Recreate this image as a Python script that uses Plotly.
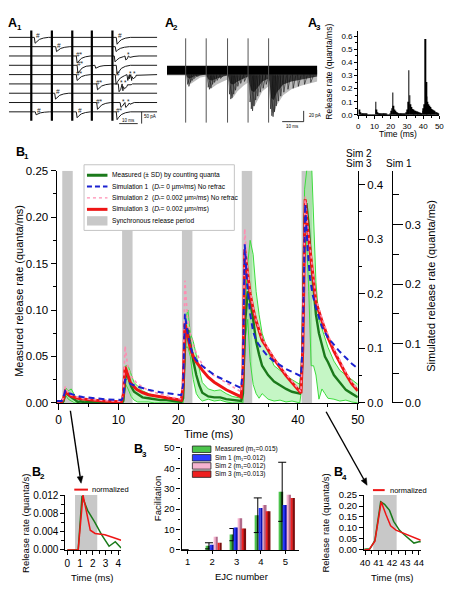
import plotly.graph_objects as go

FONT = "Liberation Sans, Arial, sans-serif"
W, H = 460, 600


def fx(p):
    return p / W


def fy(p):
    return 1 - p / H


# ---------------- A1: example EJC traces ----------------
a1_stim_ms = [11.1, 21.3, 31.4, 41.1, 51.3]
a1_trace_base = [32, 41.5, 51, 60.5, 70, 79.5, 89, 98.5, 108]
a1_ev_trace = [0, 0, 1, 1, 2, 2, 2, 3, 3, 3, 4, 4, 4, 4, 5, 5, 5, 6, 7, 7, 7, 8, 8, 8]
a1_ev_time = [12.6, 53.2, 23.2, 52.7, 33.4, 52.2, 57.5, 33.8, 42.6, 53.2, 33.4, 52.7,
              58.5, 60.4, 43.5, 54.2, 56.1, 22.7, 43.5, 55.1, 57.5, 13.1, 33.4, 53.2]
a1_ev_amp = [6, 7, 5, 5, 7, 6, 4, 8, 3, 9, 6, 10, 6, 6, 6, 8, 7, 6, 7, 5, 5, 3, 6, 8]
a1_ev_label = ['#', '#', '#', '', '#*', '', '*', '#*', '', '', '#*', '#', '*', '*',
               '#*', '*', '*', '#', '#*', '*', '*', '#', '#', '#*']
a1_tpl_dt = [0, 0.4, 1.2, 2.5, 4.5, 7.0]
a1_tpl_f = [0, 1.0, 0.7, 0.35, 0.12, 0]
a1_t_end = 73.5

# ---------------- A2: superimposed traces ----------------
a2_stim_ms = [9.0, 18.9, 29.2, 39.1, 49.0]
a2_env_t = [0, 9.2, 9.8, 11, 13, 16, 18.8, 19.2, 20, 21.5, 24, 27, 29.2, 29.6, 30.5, 32, 34,
            37, 39.1, 39.5, 40.5, 42, 44, 46, 49, 49.4, 50.3, 51.5, 53, 56, 60, 65, 72.5]
a2_dense_y = [70, 70, 73, 74, 72, 71, 70, 71, 75, 76, 74, 72, 71, 72, 79, 80, 77,
              74, 72, 74, 86, 88, 82, 77, 74, 77, 94, 96, 88, 80, 77, 75, 72]
a2_sparse_y = [71, 71, 78, 80, 77, 73, 72, 73, 82, 84, 80, 77, 75, 77, 91, 93, 87,
               81, 78, 82, 100, 103, 95, 87, 82, 88, 108, 110, 101, 91, 85, 81, 77]
a2_spike_t = [9.6, 10.2, 10.9, 11.8, 12.8, 14.0,
              19.5, 20.1, 20.8, 21.6, 22.6, 23.8, 25.5,
              29.8, 30.4, 31.0, 31.8, 32.7, 33.8, 35.2, 37.0,
              39.7, 40.3, 40.9, 41.6, 42.4, 43.4, 44.6, 46.0, 47.5,
              49.6, 50.2, 50.8, 51.5, 52.3, 53.3, 54.5, 56.0, 58.0, 60.5, 63.0, 66.0, 69.0]
a2_spike_y = [80, 82, 78, 76, 74, 72,
              83, 85, 84, 80, 78, 76, 74,
              90, 95, 94, 90, 86, 82, 79, 77,
              98, 105, 107, 102, 96, 92, 88, 84, 80,
              105, 112, 113, 108, 102, 97, 92, 88, 85, 84, 82, 80, 78]

# ---------------- A3: release-rate histogram (0.5 ms bins) ----------------
a3_bin_ms = 0.5
a3_rate = [0, 0.04, 0.02, 0.01, 0.008, 0.006, 0.005, 0.004, 0.004, 0.003,
           0.003, 0.002, 0.002, 0.002, 0.002, 0.001, 0.001, 0.001, 0.001, 0.001,
           0.002, 0.1, 0.04, 0.02, 0.012, 0.01, 0.008, 0.006, 0.005, 0.005,
           0.004, 0.004, 0.003, 0.003, 0.003, 0.002, 0.002, 0.002, 0.002, 0.01,
           0.03, 0.05, 0.17, 0.07, 0.04, 0.03, 0.02, 0.02, 0.015, 0.012,
           0.01, 0.01, 0.008, 0.008, 0.007, 0.006, 0.006, 0.005, 0.005, 0.02,
           0.04, 0.1, 0.34, 0.15, 0.08, 0.06, 0.045, 0.04, 0.035, 0.03,
           0.03, 0.025, 0.025, 0.02, 0.02, 0.018, 0.015, 0.012, 0.012, 0.03,
           0.05, 0.08, 0.58, 0.25, 0.14, 0.1, 0.08, 0.07, 0.06, 0.05,
           0.045, 0.04, 0.035, 0.03, 0.025, 0.02, 0.02, 0.015, 0.01, 0.01]

# ---------------- B1: measured vs simulated release rate ----------------
b1_stim_ms = [0, 10, 20, 30, 40]
sync_on, sync_off = 0.6, 2.35
b1_t_meas = [-0.3, 0.5, 0.8, 1.2, 1.6, 2.1, 2.7, 3.2, 3.7, 4.2, 5, 6, 8, 10.5,
             10.8, 11.2, 11.6, 12.1, 12.6, 13.2, 14, 15, 16, 17, 18, 19, 20.5,
             20.8, 21.2, 21.6, 22.0, 22.5, 23.0, 23.5, 24, 25, 26, 27, 28, 29, 30.5,
             30.8, 31.2, 31.6, 32.0, 32.5, 33.0, 33.5, 34, 35, 36, 37, 38, 39, 40.3,
             40.7, 41.1, 41.4, 41.8, 42.2, 42.6, 43.0, 43.5, 44, 44.5, 45, 46, 47, 48, 49, 50]
b1_meas = [0, 0, 0.002, 0.012, 0.0086, 0.0062, 0.0033, 0.001, 0.0018, 0.0005, 0.001, 0.0005, 0.0003, 0.0002,
           0.002, 0.03, 0.028, 0.018, 0.012, 0.009, 0.006, 0.005, 0.004, 0.003, 0.003, 0.002, 0.001,
           0.005, 0.075, 0.08, 0.063, 0.045, 0.03, 0.019, 0.011, 0.007, 0.006, 0.006, 0.004, 0.003, 0.002,
           0.01, 0.09, 0.12, 0.11, 0.09, 0.066, 0.052, 0.04, 0.03, 0.023, 0.019, 0.015, 0.012, 0.01,
           0.04, 0.2, 0.215, 0.19, 0.15, 0.12, 0.095, 0.075, 0.062, 0.05, 0.044, 0.03, 0.022, 0.014, 0.01, 0.006]
b1_meas_hi = [0, 0, 0.004, 0.016, 0.013, 0.015, 0.008, 0.004, 0.005, 0.002, 0.003, 0.002, 0.001, 0.001,
              0.004, 0.04, 0.04, 0.03, 0.022, 0.018, 0.013, 0.01, 0.008, 0.006, 0.005, 0.004, 0.003,
              0.01, 0.09, 0.1, 0.075, 0.066, 0.05, 0.035, 0.022, 0.015, 0.013, 0.014, 0.01, 0.007, 0.005,
              0.02, 0.11, 0.15, 0.175, 0.16, 0.12, 0.095, 0.075, 0.055, 0.04, 0.035, 0.03, 0.025, 0.02,
              0.06, 0.23, 0.25, 0.27, 0.27, 0.2, 0.13, 0.09, 0.08, 0.07, 0.06, 0.045, 0.035, 0.03, 0.025, 0.02]
b1_meas_lo = [0, 0, 0, 0.008, 0.004, 0.002, 0, 0, 0, 0, 0, 0, 0, 0,
              0, 0.02, 0.015, 0.007, 0.003, 0.001, 0.001, 0.001, 0, 0, 0, 0, 0,
              0, 0.06, 0.06, 0.05, 0.025, 0.01, 0.005, 0.002, 0.004, 0.002, 0.003, 0.001, 0, 0,
              0, 0.07, 0.09, 0.045, 0.02, 0.01, 0.005, 0.01, 0.004, 0.002, 0.003, 0.001, 0.002, 0,
              0.02, 0.17, 0.18, 0.12, 0.04, 0.04, 0.03, 0.004, 0.015, 0.01, 0.005, 0.004, 0.002, 0.003, 0.001, 0]
b1_t_sim = [-0.3, 0.5, 0.8, 1.1, 1.5, 2, 3, 4, 6, 8, 10.5,
            10.8, 11.1, 11.5, 12, 13, 14, 15, 17, 19, 20.5,
            20.8, 21.1, 21.5, 22, 22.5, 23, 24, 25, 26, 28, 30.5,
            30.8, 31.1, 31.5, 32, 32.5, 33, 34, 35, 36, 38, 40.5,
            40.8, 41.2, 41.6, 42, 42.5, 43, 44, 45, 46, 47, 48, 49, 50]
b1_sim1 = [0.003, 0.003, 0.01, 0.02, 0.017, 0.015, 0.012, 0.01, 0.008, 0.006, 0.005,
           0.01, 0.04, 0.036, 0.032, 0.028, 0.025, 0.022, 0.018, 0.015, 0.013,
           0.03, 0.15, 0.12, 0.095, 0.08, 0.072, 0.062, 0.054, 0.047, 0.037, 0.025,
           0.06, 0.267, 0.2, 0.15, 0.12, 0.105, 0.09, 0.078, 0.07, 0.057, 0.045,
           0.1, 0.335, 0.26, 0.21, 0.18, 0.16, 0.128, 0.11, 0.098, 0.086, 0.076, 0.066, 0.058]
b1_sim2 = [0.002, 0.002, 0.01, 0.03, 0.02, 0.015, 0.011, 0.008, 0.006, 0.004, 0.003,
           0.02, 0.104, 0.07, 0.05, 0.037, 0.029, 0.023, 0.016, 0.01, 0.007,
           0.04, 0.224, 0.16, 0.125, 0.105, 0.092, 0.07, 0.058, 0.05, 0.037, 0.02,
           0.06, 0.319, 0.25, 0.205, 0.175, 0.152, 0.118, 0.1, 0.082, 0.053, 0.02,
           0.12, 0.378, 0.325, 0.283, 0.24, 0.19, 0.155, 0.125, 0.1, 0.077, 0.056, 0.038, 0.024]
b1_sim3 = [0.002, 0.002, 0.008, 0.021, 0.017, 0.013, 0.009, 0.007, 0.005, 0.003, 0.002,
           0.015, 0.066, 0.052, 0.037, 0.025, 0.019, 0.015, 0.011, 0.007, 0.005,
           0.03, 0.147, 0.125, 0.1, 0.085, 0.075, 0.06, 0.047, 0.038, 0.024, 0.011,
           0.05, 0.281, 0.24, 0.2, 0.172, 0.15, 0.115, 0.097, 0.08, 0.05, 0.018,
           0.1, 0.373, 0.32, 0.28, 0.235, 0.185, 0.15, 0.12, 0.095, 0.073, 0.053, 0.035, 0.022]

# ---------------- B2 / B4: first and fifth response, normalized ----------------
b2_t_meas = [0, 0.55, 0.85, 1.15, 1.6, 2.13, 2.7, 3.28, 3.77, 4.23]
b2_meas = [0, 0, 0, 0.0118, 0.0086, 0.0062, 0.0033, 0.0008, 0.0018, 0.0004]
b2_t_sim = [0, 0.55, 0.85, 1.23, 1.54, 1.8, 2.18, 2.95, 3.6, 4.23]
b2_sim = [0, 0, 0, 0.012, 0.0079, 0.0043, 0.0036, 0.0033, 0.0027, 0.0021]
b4_t_meas = [39.93, 40.36, 40.73, 41.16, 41.45, 41.82, 42.13, 42.55, 42.9, 43.64, 44.07, 44.15]
b4_meas = [0.003, 0.005, 0.043, 0.219, 0.208, 0.18, 0.13, 0.09, 0.07, 0.031, 0.038, 0.036]
b4_t_sim = [39.93, 40.3, 40.73, 41.0, 41.2, 41.56, 41.9, 42.3, 42.9, 43.5, 44.15]
b4_sim = [0.0, 0.002, 0.04, 0.14, 0.219, 0.16, 0.11, 0.09, 0.075, 0.06, 0.044]

# ---------------- B3: facilitation ----------------
b3_ejc = [1, 2, 3, 4, 5]
b3_measured = [0, 2, 7.5, 17, 28.5]
b3_measured_sd = [0, 1.5, 3, 8.5, 14.5]
b3_sim1 = [0, 2.5, 11, 20.5, 22]
b3_sim2 = [0, 6.5, 15.5, 22, 27]
b3_sim3 = [0, 3.5, 10.5, 19, 25.5]
b3_labels = ["Measured (m₁=0.015)", "Sim 1 (m₁=0.012)",
             "Sim 2 (m₁=0.012)", "Sim 3 (m₁=0.013)"]

# ---------------- styles ----------------
C_DKGREEN = '#1b7a1b'
C_LTGREEN = '#3ddc3d'
C_FILL = 'rgba(150,238,150,0.55)'
C_BLUE = '#1c22d0'
C_PINK = '#ff8db2'
C_RED = '#ee1515'
C_GRAY = '#c8c8c8'

fig = go.Figure()
shapes = []
annotations = []


def pline(x0, y0, x1, y1, color='black', width=1.0, dash='solid'):
    shapes.append(dict(type='line', xref='paper', yref='paper', x0=fx(x0), y0=fy(y0),
                       x1=fx(x1), y1=fy(y1), line=dict(color=color, width=width, dash=dash),
                       layer='above'))


def prect(x0, y0, x1, y1, fill, lc=None, lw=0):
    shapes.append(dict(type='rect', xref='paper', yref='paper', x0=fx(x0), y0=fy(y1),
                       x1=fx(x1), y1=fy(y0), fillcolor=fill,
                       line=dict(color=lc or fill, width=lw), layer='above'))


def parrow(x0, y0, x1, y1, width=1.4, hl=7.0, hw=3.0):
    dx, dy = x1 - x0, y1 - y0
    ln = (dx * dx + dy * dy) ** 0.5
    ux, uy = dx / ln, dy / ln
    bx, by = x1 - hl * ux, y1 - hl * uy
    pline(x0, y0, bx, by, width=width)
    p1 = (bx + hw * uy, by - hw * ux)
    p2 = (bx - hw * uy, by + hw * ux)
    path = "M {} {} L {} {} L {} {} Z".format(fx(x1), fy(y1), fx(p1[0]), fy(p1[1]), fx(p2[0]), fy(p2[1]))
    shapes.append(dict(type='path', xref='paper', yref='paper', path=path, fillcolor='black',
                       line=dict(color='black', width=0.5), layer='above'))


def text(s, x, y, size, xanchor='center', yanchor='middle', angle=0, color='black', weight='normal'):
    annotations.append(dict(text=s, x=fx(x), y=fy(y), xref='paper', yref='paper',
                            showarrow=False, xanchor=xanchor, yanchor=yanchor,
                            textangle=angle,
                            font=dict(size=size, color=color, family=FONT, weight=weight)))


def panel(letter, idx, x, y):
    text(letter, x, y, 12.5, weight='bold')
    text(idx, x + 6.5, y + 5, 8, weight='bold')


# ---- A1 ----
xs, ys = [], []
for k, base in enumerate(a1_trace_base):
    pts = [(0.0, base), (a1_t_end, base)]
    for tr, t0, amp in zip(a1_ev_trace, a1_ev_time, a1_ev_amp):
        if tr == k:
            pts += [(t0 + d, base + amp * f) for d, f in zip(a1_tpl_dt, a1_tpl_f)]
    pts.sort()
    xs += [p[0] for p in pts] + [None]
    ys += [p[1] for p in pts] + [None]
fig.add_trace(go.Scatter(x=xs, y=ys, mode='lines', line=dict(color='#1a1a1a', width=1),
                         xaxis='x', yaxis='y', hoverinfo='skip'))
sx, sy = [], []
for t in a1_stim_ms:
    sx += [t, t, None]
    sy += [25, 117, None]
fig.add_trace(go.Scatter(x=sx, y=sy, mode='lines', line=dict(color='black', width=2.2),
                         xaxis='x', yaxis='y', hoverinfo='skip'))
for tr, t0, amp, lab in zip(a1_ev_trace, a1_ev_time, a1_ev_amp, a1_ev_label):
    if lab:
        annotations.append(dict(text=lab, x=t0 + 1.6, y=a1_trace_base[tr] - 1.5, xref='x', yref='y',
                                showarrow=False, font=dict(size=6.5, family=FONT, color='#222')))
pline(118, 120, 137, 120, width=0.8)
pline(141, 108, 141, 120, width=0.8)
text("10 ms", 127.5, 116.5, 4.5)
text("50 pA", 150, 113, 4.5)

# ---- A2 ----
n = len(a2_env_t)
fig.add_trace(go.Scatter(x=a2_env_t + a2_env_t[::-1], y=[65] * n + a2_sparse_y[::-1], fill='toself',
                         fillcolor='#bdbdbd', mode='lines', line=dict(width=0, color='#bdbdbd'),
                         xaxis='x2', yaxis='y2', hoverinfo='skip'))
fig.add_trace(go.Scatter(x=a2_env_t + a2_env_t[::-1], y=[65] * n + a2_dense_y[::-1], fill='toself',
                         fillcolor='#3a3a3a', mode='lines', line=dict(width=0, color='#3a3a3a'),
                         xaxis='x2', yaxis='y2', hoverinfo='skip'))
kx, ky = [], []
for t, yb in zip(a2_spike_t, a2_spike_y):
    kx += [t, t + 0.35, t + 1.6, None]
    ky += [70, yb, 71, None]
fig.add_trace(go.Scatter(x=kx, y=ky, mode='lines', line=dict(color='#111', width=0.6),
                         xaxis='x2', yaxis='y2', hoverinfo='skip'))
fig.add_trace(go.Scatter(x=[a2_env_t[0], a2_env_t[-1], a2_env_t[-1], a2_env_t[0]], y=[61, 61, 70, 70],
                         fill='toself', fillcolor='black', mode='lines', line=dict(width=0, color='black'),
                         xaxis='x2', yaxis='y2', hoverinfo='skip'))
sx, sy = [], []
for t in a2_stim_ms:
    sx += [t, t, None]
    sy += [33, 119, None]
fig.add_trace(go.Scatter(x=sx, y=sy, mode='lines', line=dict(color='#555', width=1),
                         xaxis='x2', yaxis='y2', hoverinfo='skip'))
pline(307, 107, 307, 118, width=0.8)
pline(285, 118, 307, 118, width=0.8)
text("20 pA", 310, 112, 4.5, xanchor='left')
text("10 ms", 296, 122.5, 4.5)

# ---- A3 ----
fig.add_trace(go.Bar(x=[a3_bin_ms * (i + 0.5) for i in range(len(a3_rate))], y=a3_rate,
                     width=a3_bin_ms * 0.9, marker=dict(color='black', line=dict(width=0)),
                     xaxis='x3', yaxis='y3', hoverinfo='skip'))

# ---- B1 ----
for t in b1_stim_ms:
    shapes.append(dict(type='rect', xref='x4', yref='y4', x0=t + sync_on, x1=t + sync_off,
                       y0=0, y1=0.25, fillcolor=C_GRAY, line=dict(width=0), layer='below'))
fig.add_trace(go.Scatter(x=b1_t_meas, y=b1_meas_lo, mode='lines', line=dict(color=C_LTGREEN, width=1),
                         xaxis='x4', yaxis='y4', hoverinfo='skip'))
fig.add_trace(go.Scatter(x=b1_t_meas, y=b1_meas_hi, mode='lines', line=dict(color=C_LTGREEN, width=1),
                         fill='tonexty', fillcolor=C_FILL, xaxis='x4', yaxis='y4', hoverinfo='skip'))
fig.add_trace(go.Scatter(x=b1_t_meas, y=b1_meas, mode='lines', line=dict(color=C_DKGREEN, width=2.4),
                         xaxis='x4', yaxis='y4', hoverinfo='skip'))
fig.add_trace(go.Scatter(x=b1_t_sim, y=b1_sim3, mode='lines', line=dict(color=C_RED, width=3),
                         xaxis='x4', yaxis='y5', hoverinfo='skip'))
fig.add_trace(go.Scatter(x=b1_t_sim, y=b1_sim2, mode='lines', line=dict(color=C_PINK, width=1.6, dash='dot'),
                         xaxis='x4', yaxis='y5', hoverinfo='skip'))
fig.add_trace(go.Scatter(x=b1_t_sim, y=b1_sim1, mode='lines', line=dict(color=C_BLUE, width=2, dash='6px,4px'),
                         xaxis='x4', yaxis='y6', hoverinfo='skip'))

# B1 legend
prect(82, 162, 236, 229, 'white', '#c4c4c4', 1)
rows = [172.7, 184.2, 195.8, 207.5, 219.2]
pline(85, rows[0], 106, rows[0], C_DKGREEN, 3)
pline(85, rows[1], 106, rows[1], C_BLUE, 2, '5px,3px')
pline(85, rows[2], 106, rows[2], C_PINK, 1.3, 'dot')
pline(85, rows[3], 106, rows[3], C_RED, 3)
prect(85, 214.5, 106, 224, C_GRAY)
leg_txt = ["Measured (± SD) by counting quanta",
           "Simulation 1  (<i>D</i>ᵣ= 0 µm²/ms) No refrac",
           "Simulation 2  (<i>D</i>ᵣ= 0.002 µm²/ms) No refrac",
           "Simulation 3  (<i>D</i>ᵣ= 0.002 µm²/ms)",
           "Synchronous release period"]
for r, s in zip(rows, leg_txt):
    text(s, 109, r, 6.6, xanchor='left')

# ---- B2 ----
shapes.append(dict(type='rect', xref='x5', yref='y7', x0=sync_on, x1=sync_off, y0=0, y1=0.012,
                   fillcolor=C_GRAY, line=dict(width=0), layer='below'))
fig.add_trace(go.Scatter(x=b2_t_meas, y=b2_meas, mode='lines', line=dict(color=C_DKGREEN, width=1.5),
                         xaxis='x5', yaxis='y7', hoverinfo='skip'))
fig.add_trace(go.Scatter(x=b2_t_sim, y=b2_sim, mode='lines', line=dict(color=C_RED, width=1.5),
                         xaxis='x5', yaxis='y7', hoverinfo='skip'))
pline(72, 493.5, 86, 493.5, C_RED, 2)
text("normalized", 88, 493.5, 7.5, xanchor='left')

# ---- B3 ----
b3_series = [(b3_measured, '#4cc44c', '#1c5c1c'), (b3_sim1, '#2a3cff', '#0c10b0'),
             (b3_sim2, '#f5b3cf', '#b06a8a'), (b3_sim3, '#ee2020', '#7a0e0e')]
bw = 0.16
for i, (vals, light, dark) in enumerate(b3_series):
    off = -0.25 + i * bw
    fig.add_trace(go.Bar(x=b3_ejc, y=vals, width=bw / 2, offset=off,
                         marker=dict(color=light, line=dict(width=0)),
                         xaxis='x6', yaxis='y8', hoverinfo='skip'))
    fig.add_trace(go.Bar(x=b3_ejc, y=vals, width=bw / 2, offset=off + bw / 2,
                         marker=dict(color=dark, line=dict(width=0)),
                         error_y=(dict(type='data', array=b3_measured_sd, symmetric=True, color='black',
                                       thickness=1, width=4) if i == 0 else None),
                         xaxis='x6', yaxis='y8', hoverinfo='skip'))
leg_rows = [452.3, 461, 469.3, 477.7]
for r, (vals, light, dark), lab in zip(leg_rows, b3_series, b3_labels):
    prect(193, r - 3.3, 212, r + 3.3, light, '#222', 0.8)
    text(lab, 214, r, 6.5, xanchor='left')

# ---- B4 ----
shapes.append(dict(type='rect', xref='x7', yref='y9', x0=b1_stim_ms[4] + sync_on,
                   x1=b1_stim_ms[4] + sync_off, y0=0, y1=0.25,
                   fillcolor=C_GRAY, line=dict(width=0), layer='below'))
fig.add_trace(go.Scatter(x=b4_t_meas, y=b4_meas, mode='lines', line=dict(color=C_DKGREEN, width=1.5),
                         xaxis='x7', yaxis='y9', hoverinfo='skip'))
fig.add_trace(go.Scatter(x=b4_t_sim, y=b4_sim, mode='lines', line=dict(color=C_RED, width=1.5),
                         xaxis='x7', yaxis='y9', hoverinfo='skip'))
pline(378, 494, 390, 494, C_RED, 2)
text("normalized", 393, 494, 7.5, xanchor='left')

# ---- titles / labels ----
panel("A", "1", 9, 17)
panel("A", "2", 169.5, 17)
panel("A", "3", 316, 17)
panel("B", "1", 16.5, 148.5)
panel("B", "2", 33, 475.5)
panel("B", "3", 137.5, 452.5)
panel("B", "4", 342.5, 476)

text("Release rate (quanta/ms)", 333, 67, 8.5, angle=-90)
text("Time (ms)", 404, 131, 8.5)
text("Measured release rate (quanta/ms)", 16, 291, 11, angle=-90)
text("Simulated release rate (quanta/ms)", 438, 286, 11, angle=-90)
text("Time (ms)", 210, 437, 11)
text("Sim 2", 364, 151, 10)
text("Sim 3", 364, 161, 10)
text("Sim 1", 405, 161, 10)
text("Release rate (quanta/s)", 22, 528, 9.5, angle=-90)
text("Time (ms)", 90, 583, 9.5)
text("Facilitation", 158, 503, 9.5, angle=-90)
text("EJC number", 243, 582, 9.5)
text("Release rate (quanta/s)", 329, 528, 9.5, angle=-90)
text("Time (ms)", 397, 583, 9.5)

parrow(68, 413, 79, 487)
parrow(330, 414, 372, 489)


def axis(size, **kw):
    d = dict(showgrid=False, zeroline=False, showline=True, linecolor='black', linewidth=1.3,
             ticks='outside', tickcolor='black', tickwidth=1.2, ticklen=5, tickangle=0,
             tickfont=dict(size=size, family=FONT, color='black'))
    d.update(kw)
    return d


def minor(dt, ln=3):
    return dict(dtick=dt, ticklen=ln, ticks='outside', tickcolor='black', tickwidth=1)


fig.update_layout(
    width=W, height=H, margin=dict(l=0, r=0, t=0, b=0),
    paper_bgcolor='white', plot_bgcolor='white', showlegend=False, hovermode=False,
    barmode='overlay', font=dict(family=FONT, color='black'),
    shapes=shapes, annotations=annotations,
    xaxis=dict(domain=[fx(5), fx(157)], range=[0, a1_t_end], visible=False, anchor='y'),
    yaxis=dict(domain=[fy(122), fy(22)], range=[122, 22], visible=False, anchor='x'),
    xaxis2=dict(domain=[fx(167), fx(321)], range=[0, 72.5], visible=False, anchor='y2'),
    yaxis2=dict(domain=[fy(125), fy(28)], range=[125, 28], visible=False, anchor='x2'),
    xaxis3=axis(8, domain=[fx(363), fx(446)], range=[0, 50], tick0=0, dtick=10, ticklen=3,
                minor=minor(5, 2), anchor='y3'),
    yaxis3=axis(8, domain=[fy(111), fy(25)], range=[0, 0.645], tick0=0, dtick=0.1, tickformat='.1f',
                ticklen=3, minor=minor(0.05, 2), anchor='x3'),
    xaxis4=axis(12, domain=[fx(54), fx(362.5)], range=[-0.33, 50], tick0=0, dtick=10,
                ticklen=6, minor=minor(5, 3), anchor='y4'),
    yaxis4=axis(11.5, domain=[fy(405), fy(168)], range=[0, 0.25], tick0=0, dtick=0.05, tickformat='.2f',
                ticklen=5, minor=minor(0.025, 3), anchor='x4'),
    yaxis5=axis(11.5, overlaying='y4', side='right', anchor='x4', range=[0, 0.4256], tick0=0, dtick=0.1,
                tickformat='.1f', ticklen=6, minor=minor(0.05, 3)),
    yaxis6=axis(11.5, overlaying='y4', side='right', anchor='free', position=fx(397), range=[0, 0.391],
                tick0=0, dtick=0.1, tickformat='.1f', ticklen=10, minor=minor(0.05, 6)),
    xaxis5=axis(10, domain=[fx(63), fx(120)], range=[-0.15, 4.23], tick0=0, dtick=1, ticklen=4,
                minor=minor(0.5, 3), anchor='y7'),
    yaxis7=axis(10, domain=[fy(555), fy(499)], range=[0, 0.012], tick0=0, dtick=0.004, tickformat='.3f',
                ticklen=4, minor=minor(0.002, 3), anchor='x5'),
    xaxis6=axis(9.5, domain=[fx(182), fx(302)], range=[0.75, 5.55], tickvals=b3_ejc, ticklen=3,
                anchor='y8'),
    yaxis8=axis(9.5, domain=[fy(555), fy(451)], range=[0, 50], tick0=0, dtick=10, ticklen=4,
                minor=minor(5, 2), anchor='x6'),
    xaxis7=axis(9.5, domain=[fx(369), fx(427)], range=[39.93, 44.15], tick0=40, dtick=1, ticklen=4,
                minor=minor(0.5, 3), anchor='y9'),
    yaxis9=axis(9.5, domain=[fy(555), fy(499)], range=[0, 0.25], tick0=0, dtick=0.05, tickformat='.2f',
                ticklen=4, anchor='x7'),
)

fig.write_html("out.html", config={'displayModeBar': False},
               post_script="document.body.style.margin='0px';document.body.style.padding='0px';")
